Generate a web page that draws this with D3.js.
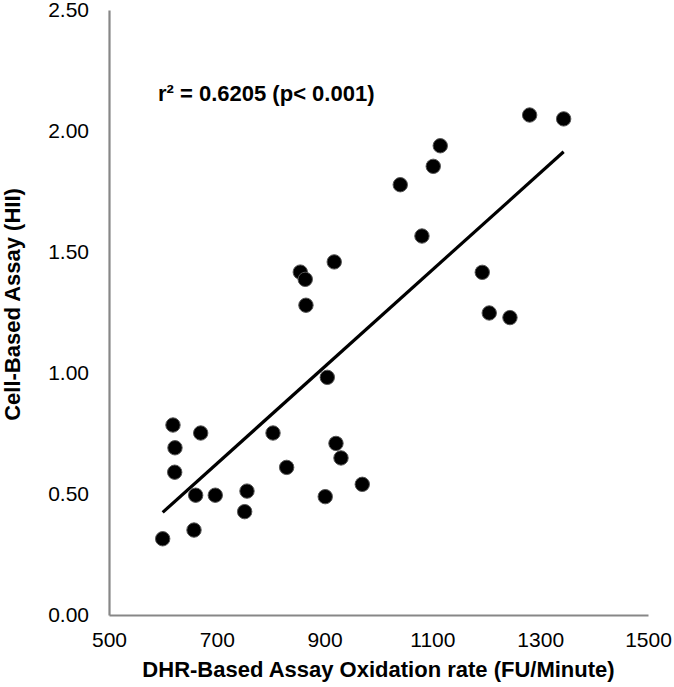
<!DOCTYPE html>
<html>
<head>
<meta charset="utf-8">
<script src="https://cdn.jsdelivr.net/npm/d3@7"></script>
<style>
  html, body { margin: 0; padding: 0; background: #fff; }
  svg { display: block; font-family: "Liberation Sans", Arial, sans-serif; }
</style>
</head>
<body>
<svg id="chart" width="674" height="687"></svg>
<script>
// DHR-based assay oxidation rate (FU/Minute)
const dhrRate = [618.7, 670.1, 622.4, 621.9, 804.3, 829.6, 660.8, 697.2, 756.0, 751.7,
                 657.7, 599.6, 921.1, 930.4, 969.9, 901.2, 917.9, 854.9, 864.1, 865.4,
                 905.0, 1280.4, 1343.5, 1114.6, 1101.6, 1040.4, 1080.6, 1192.5, 1205.5, 1243.9];
// Cell-based assay (HII)
const hii = [0.785, 0.752, 0.691, 0.590, 0.752, 0.610, 0.495, 0.495, 0.512, 0.427,
             0.351, 0.315, 0.709, 0.649, 0.540, 0.489, 1.459, 1.417, 1.387, 1.280,
             0.982, 2.066, 2.050, 1.939, 1.854, 1.778, 1.566, 1.416, 1.248, 1.229];
// Linear trendline end points
const trendX = [599.6, 1343.5];
const trendY = [0.424, 1.914];

const xTicks = [500, 700, 900, 1100, 1300, 1500];
const yTicks = [0, 0.5, 1.0, 1.5, 2.0, 2.5];
const xTitle = "DHR-Based Assay Oxidation rate (FU/Minute)";
const yTitle = "Cell-Based Assay (HII)";
const annotation = "r² = 0.6205 (p< 0.001)";

const svg = d3.select("#chart");
const x = d3.scaleLinear().domain([500, 1500]).range([109, 648]);
const y = d3.scaleLinear().domain([0, 2.5]).range([615, 10]);

const axisColor = "#878787";

// X axis
const gx = svg.append("g").attr("transform", `translate(0,${y(0)})`)
  .call(d3.axisBottom(x).tickValues(xTicks).tickSize(0).tickPadding(17).tickFormat(d3.format("d")));
gx.select(".domain").attr("stroke", axisColor).attr("stroke-width", 2.2);
gx.selectAll("text").attr("font-size", 21).attr("fill", "#000").attr("font-family", "Liberation Sans, Arial, sans-serif");

// Y axis
const gy = svg.append("g").attr("transform", `translate(${x(500)},0)`)
  .call(d3.axisLeft(y).tickValues(yTicks).tickSize(0).tickPadding(20).tickFormat(d3.format(".2f")));
gy.select(".domain").attr("stroke", axisColor).attr("stroke-width", 2.2);
gy.selectAll("text").attr("font-size", 21).attr("fill", "#000").attr("font-family", "Liberation Sans, Arial, sans-serif");

// Trendline
svg.append("line")
  .attr("x1", x(trendX[0])).attr("y1", y(trendY[0]))
  .attr("x2", x(trendX[1])).attr("y2", y(trendY[1]))
  .attr("stroke", "#000").attr("stroke-width", 3.2);

// Points
const pts = dhrRate.map((d, i) => ({ x: d, y: hii[i] }));
svg.append("g").selectAll("circle").data(pts).join("circle")
  .attr("cx", d => x(d.x)).attr("cy", d => y(d.y)).attr("r", 7.2)
  .attr("fill", "#000").attr("stroke", "#555").attr("stroke-width", 1);

// Annotation
svg.append("text").attr("x", 158).attr("y", 101)
  .attr("font-size", 22).attr("font-weight", "bold").attr("fill", "#000")
  .text(annotation);

// Axis titles
svg.append("text").attr("x", (x(500) + x(1500)) / 2).attr("y", 677)
  .attr("text-anchor", "middle").attr("font-size", 22).attr("font-weight", "bold")
  .text(xTitle);
svg.append("text").attr("transform", `translate(20,${(y(0) + y(2.5)) / 2 - 8}) rotate(-90)`)
  .attr("text-anchor", "middle").attr("font-size", 22).attr("font-weight", "bold")
  .text(yTitle);
</script>
</body>
</html>
